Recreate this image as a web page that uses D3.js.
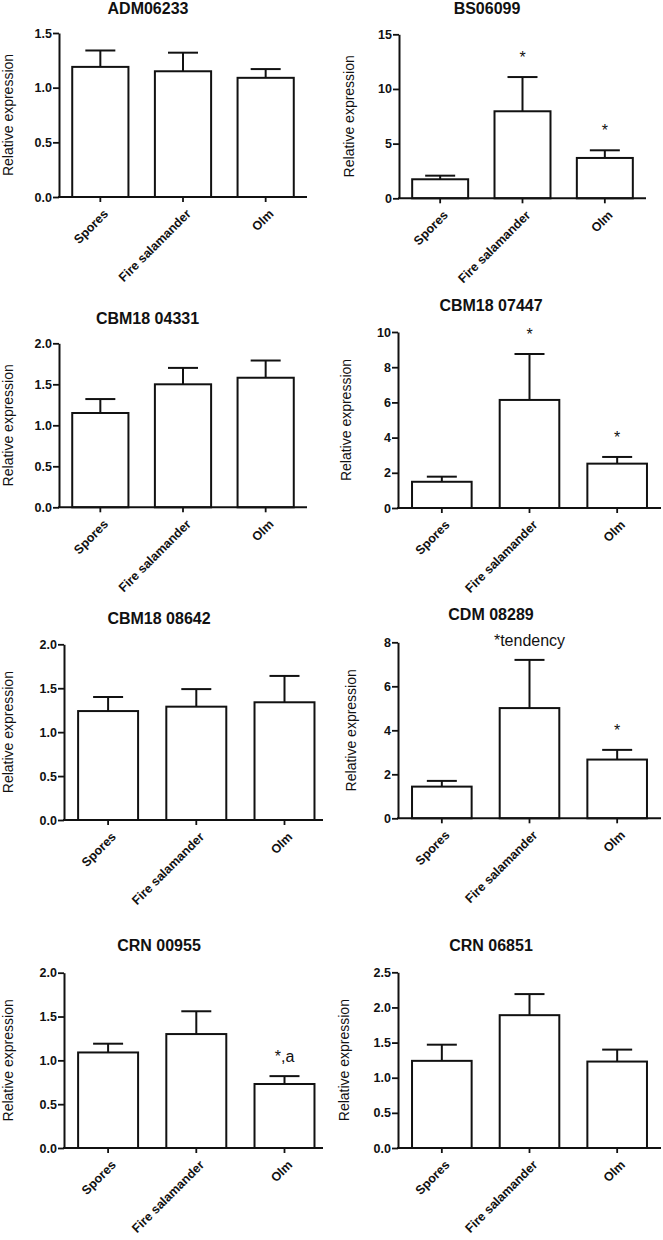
<!DOCTYPE html>
<html>
<head>
<meta charset="utf-8">
<script src="https://cdn.jsdelivr.net/npm/d3@7"></script>
<style>
  html, body { margin: 0; padding: 0; background: #fff; }
  svg text { font-family: "Liberation Sans", Arial, sans-serif; fill: #111; }
</style>
</head>
<body>
<svg id="chart" width="663" height="1240"></svg>
<script>
// ---- data ----
const genes = ["ADM06233", "BS06099", "CBM18 04331", "CBM18 07447", "CBM18 08642", "CDM 08289", "CRN 00955", "CRN 06851"];
const groups = ["Spores", "Fire salamander", "Olm"];
const means = [
  [1.19, 1.15, 1.09],
  [1.74, 7.96, 3.69],
  [1.15, 1.50, 1.58],
  [1.49, 6.14, 2.52],
  [1.24, 1.29, 1.34],
  [1.44, 5.01, 2.67],
  [1.09, 1.30, 0.73],
  [1.24, 1.89, 1.23]
];
const errTops = [
  [1.34, 1.32, 1.17],
  [2.07, 11.09, 4.39],
  [1.32, 1.70, 1.79],
  [1.78, 8.75, 2.90],
  [1.40, 1.49, 1.64],
  [1.70, 7.20, 3.11],
  [1.19, 1.56, 0.82],
  [1.47, 2.19, 1.40]
];
const yMaxes = [1.5, 15, 2, 10, 2, 8, 2, 2.5];
const yTicks = [
  [0, 0.5, 1, 1.5],
  [0, 5, 10, 15],
  [0, 0.5, 1, 1.5, 2],
  [0, 2, 4, 6, 8, 10],
  [0, 0.5, 1, 1.5, 2],
  [0, 2, 4, 6, 8],
  [0, 0.5, 1, 1.5, 2],
  [0, 0.5, 1, 1.5, 2, 2.5]
];
const annotations = [
  ["", "", ""],
  ["", "*", "*"],
  ["", "", ""],
  ["", "*", "*"],
  ["", "", ""],
  ["", "*tendency", "*"],
  ["", "", "*,a"],
  ["", "", ""]
];
const yLabel = "Relative expression";

// ---- layout (positions only) ----
const layouts = [
  {ax: 59,  xEnd: 307, bandEnd: 307,   yTop: 33,    yBot: 197,   tx: 148,   ty: 13.5,  lx: 13},
  {ax: 399, xEnd: 646, bandEnd: 646,   yTop: 34.3,  yBot: 198.3, tx: 487,   ty: 13.5,  lx: 354},
  {ax: 59,  xEnd: 307, bandEnd: 307,   yTop: 343.3, yBot: 507.3, tx: 147.5, ty: 323.5, lx: 13},
  {ax: 398, xEnd: 661, bandEnd: 661,   yTop: 332,   yBot: 508,   tx: 491,   ty: 311,   lx: 351},
  {ax: 64,  xEnd: 323, bandEnd: 328.6, yTop: 644.3, yBot: 820,   tx: 159,   ty: 623.5, lx: 13},
  {ax: 398, xEnd: 661, bandEnd: 661,   yTop: 642.3, yBot: 818.3, tx: 491,   ty: 620,   lx: 356},
  {ax: 64,  xEnd: 323, bandEnd: 328.6, yTop: 972.7, yBot: 1148,  tx: 159,   ty: 951,   lx: 13},
  {ax: 398, xEnd: 661, bandEnd: 661,   yTop: 972.3, yBot: 1148,  tx: 491,   ty: 951,   lx: 349}
];

const svg = d3.select("#chart");
const SW = 2;

genes.forEach((gene, i) => {
  const L = layouts[i];
  const g = svg.append("g");
  const x = d3.scaleBand().domain(groups).range([L.ax, L.bandEnd]).paddingInner(0.32).paddingOuter(0.16);
  const y = d3.scaleLinear().domain([0, yMaxes[i]]).range([L.yBot, L.yTop]);
  const fmt = yMaxes[i] < 5 ? d3.format(".1f") : d3.format("d");

  const rows = groups.map((grp, j) => ({grp, m: means[i][j], e: errTops[i][j], a: annotations[i][j]}));

  // error bars (upper only)
  const cap = 30;
  g.selectAll(".err").data(rows).join("line")
    .attr("x1", d => x(d.grp) + x.bandwidth() / 2).attr("x2", d => x(d.grp) + x.bandwidth() / 2)
    .attr("y1", d => y(d.m)).attr("y2", d => y(d.e))
    .attr("stroke", "#111").attr("stroke-width", SW);
  g.selectAll(".cap").data(rows).join("line")
    .attr("x1", d => x(d.grp) + x.bandwidth() / 2 - cap / 2).attr("x2", d => x(d.grp) + x.bandwidth() / 2 + cap / 2)
    .attr("y1", d => y(d.e)).attr("y2", d => y(d.e))
    .attr("stroke", "#111").attr("stroke-width", SW);

  // bars
  g.selectAll(".bar").data(rows).join("rect")
    .attr("x", d => x(d.grp)).attr("width", x.bandwidth())
    .attr("y", d => y(d.m)).attr("height", d => y(0) - y(d.m))
    .attr("fill", "#fff").attr("stroke", "#111").attr("stroke-width", SW);

  // annotations
  g.selectAll(".ann").data(rows.filter(d => d.a)).join("text")
    .attr("x", d => x(d.grp) + x.bandwidth() / 2)
    .attr("y", d => y(d.e) - 14)
    .attr("text-anchor", "middle")
    .style("font-size", "16px")
    .text(d => d.a);

  // y axis
  const ya = g.append("g").attr("transform", `translate(${L.ax},0)`)
    .call(d3.axisLeft(y).tickValues(yTicks[i]).tickFormat(fmt).tickSize(6).tickSizeOuter(0).tickPadding(1));
  ya.select(".domain").attr("stroke", "#111").attr("stroke-width", SW);
  ya.selectAll(".tick line").attr("stroke", "#111").attr("stroke-width", 1.8);
  ya.selectAll(".tick text").style("font-size", "12.5px").style("font-weight", "bold")
    .style("font-family", "'Liberation Sans', Arial, sans-serif").attr("fill", "#111");

  // x axis
  const xa = g.append("g").attr("transform", `translate(0,${L.yBot})`)
    .call(d3.axisBottom(x).tickSize(5).tickSizeOuter(0));
  xa.select(".domain").remove();
  xa.selectAll(".tick line").attr("stroke", "#111").attr("stroke-width", 1.8);
  xa.selectAll(".tick text")
    .style("font-size", "12.5px").style("font-weight", "bold")
    .style("font-family", "'Liberation Sans', Arial, sans-serif").attr("fill", "#111")
    .attr("text-anchor", "end")
    .attr("transform", "translate(2,11) rotate(-45)")
    .attr("x", 0).attr("y", 0).attr("dy", "0.75em");
  g.append("line")
    .attr("x1", L.ax - 1).attr("x2", L.xEnd)
    .attr("y1", L.yBot).attr("y2", L.yBot)
    .attr("stroke", "#111").attr("stroke-width", SW);

  // title
  g.append("text").attr("x", L.tx).attr("y", L.ty)
    .attr("text-anchor", "middle")
    .style("font-size", "16px").style("font-weight", "bold")
    .text(gene);

  // y label
  g.append("text")
    .attr("transform", `translate(${L.lx},${(L.yTop + L.yBot) / 2}) rotate(-90)`)
    .attr("text-anchor", "middle")
    .style("font-size", "14px")
    .text(yLabel);
});
</script>
</body>
</html>
